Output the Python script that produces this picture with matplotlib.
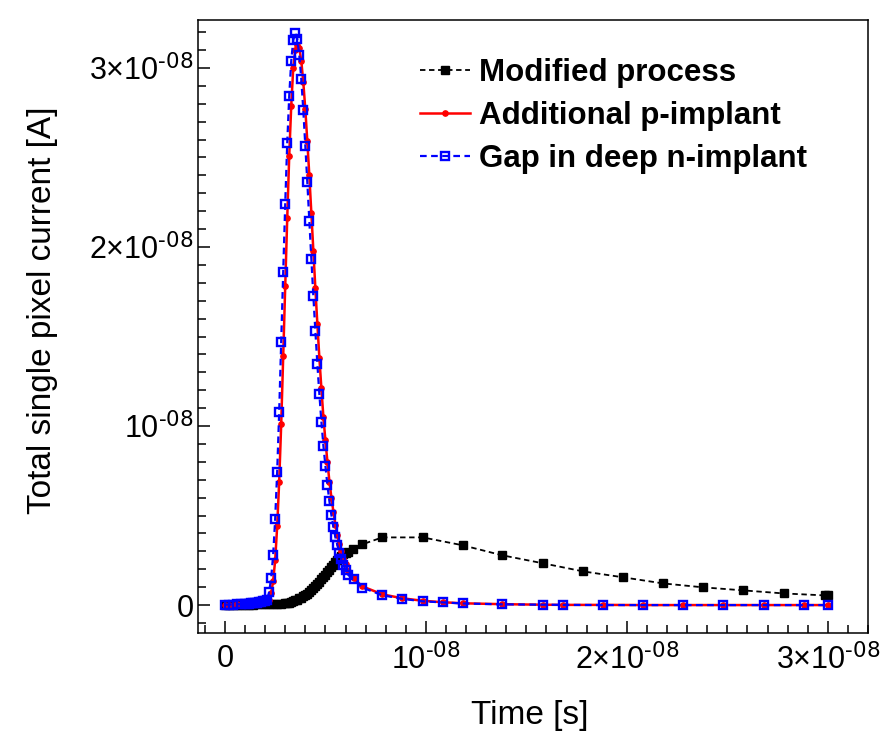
import matplotlib
matplotlib.use("Agg")
import matplotlib.pyplot as plt
import numpy as np
from matplotlib.ticker import MultipleLocator

plt.rcParams['font.family'] = ['Liberation Sans', 'DejaVu Sans']
plt.rcParams['mathtext.default'] = 'regular'

# ---- data: time in ns, current in nA ----
mod_t = [0.0, 0.2, 0.4, 0.6, 0.8, 1.0, 1.2, 1.4, 1.6, 1.8, 2.0, 2.2, 2.4, 2.6, 2.8,
         3.0, 3.1, 3.2, 3.3, 3.4, 3.5, 3.6, 3.7, 3.8, 3.9, 4.0, 4.1, 4.2, 4.3, 4.4,
         4.5, 4.6, 4.7, 4.8, 4.9, 5.0, 5.1, 5.2, 5.3, 5.4, 5.5, 5.6, 5.7, 5.8, 5.9,
         6.0, 6.1, 6.38, 6.83, 7.83, 9.84, 11.83, 13.8, 15.84, 17.83, 19.82, 21.8,
         23.8, 25.8, 27.8, 29.85, 30.0]
mod_i = [0.01, 0.01, 0.01, 0.02, 0.02, 0.02, 0.03, 0.03, 0.04, 0.04, 0.05, 0.05, 0.05, 0.06, 0.07,
         0.09, 0.11, 0.14, 0.18, 0.22, 0.26, 0.31, 0.37, 0.42, 0.48, 0.55, 0.63, 0.72, 0.82, 0.93,
         1.05, 1.17, 1.30, 1.43, 1.56, 1.70, 1.84, 1.98, 2.12, 2.26, 2.40, 2.53, 2.64, 2.74, 2.83,
         2.91, 2.98, 3.11, 3.39, 3.78, 3.78, 3.34, 2.78, 2.33, 1.88, 1.55, 1.21,
         0.99, 0.82, 0.65, 0.54, 0.54]

pim_t = [0.0, 0.2, 0.4, 0.6, 0.8, 1.0, 1.1, 1.2, 1.3, 1.4, 1.5, 1.6, 1.7, 1.8, 1.9, 2.0,
         2.1, 2.2, 2.3, 2.4, 2.5, 2.6, 2.7, 2.8, 2.9, 3.0, 3.1, 3.2, 3.3, 3.4, 3.5, 3.6,
         3.7, 3.8, 3.9, 4.0, 4.1, 4.2, 4.3, 4.4, 4.5, 4.6, 4.7, 4.8, 4.9, 5.0, 5.1, 5.2,
         5.3, 5.4, 5.5, 5.6, 5.7, 5.8, 5.9, 6.0, 6.14, 6.4, 6.83, 7.83, 8.82, 9.84,
         10.83, 11.83, 13.8, 15.84, 16.83, 18.82, 20.81, 22.8, 24.8, 26.8, 28.8, 30.0]
pim_i = [0.02, 0.03, 0.03, 0.04, 0.05, 0.06, 0.06, 0.07, 0.08, 0.09, 0.10, 0.11, 0.12, 0.14, 0.16, 0.18,
         0.20, 0.30, 0.65, 1.35, 2.50, 4.40, 6.90, 10.1, 13.9, 17.8, 21.6, 25.1, 27.9, 30.0, 31.0, 31.3,
         31.1, 30.4, 29.2, 27.7, 25.9, 24.0, 21.9, 19.8, 17.7, 15.7, 13.8, 12.1, 10.5, 9.2, 8.0, 6.9,
         6.0, 5.2, 4.5, 3.9, 3.4, 3.0, 2.6, 2.3, 1.9, 1.5, 1.05, 0.60, 0.38, 0.24,
         0.16, 0.10, 0.05, 0.02, 0.01, 0.01, 0.0, 0.0, 0.0, 0.0, 0.0, 0.0]

gap_t = pim_t
gap_i = [0.02, 0.03, 0.03, 0.04, 0.05, 0.06, 0.07, 0.08, 0.09, 0.10, 0.11, 0.13, 0.15, 0.17, 0.20, 0.24,
         0.30, 0.74, 1.50, 2.80, 4.80, 7.45, 10.8, 14.7, 18.6, 22.4, 25.8, 28.45, 30.4, 31.56, 31.94, 31.6,
         30.73, 29.37, 27.64, 25.66, 23.61, 21.47, 19.33, 17.26, 15.31, 13.45, 11.77, 10.24, 8.90, 7.78, 6.70, 5.79,
         5.01, 4.34, 3.78, 3.34, 2.92, 2.55, 2.23, 1.96, 1.68, 1.44, 0.98, 0.55, 0.35, 0.21,
         0.15, 0.09, 0.04, 0.02, 0.01, 0.0, 0.0, 0.0, 0.0, 0.0, 0.0, 0.0]

labels = ["Modified process", "Additional p-implant", "Gap in deep n-implant"]
xtick_vals = [0, 1e-8, 2e-8, 3e-8]
xtick_labels = ["0", "10$^{\\text{-08}}$", "2\u00d710$^{\\text{-08}}$", "3\u00d710$^{\\text{-08}}$"]
ytick_vals = [0, 1e-8, 2e-8, 3e-8]
ytick_labels = ["0", "10$^{\\text{-08}}$", "2\u00d710$^{\\text{-08}}$", "3\u00d710$^{\\text{-08}}$"]

fig = plt.figure(figsize=(8.88, 7.55), dpi=100)
ax = fig.add_axes([198/888, 122/755, 670/888, 613/755])

ax.plot(np.array(mod_t)*1e-9, np.array(mod_i)*1e-9, color='black', lw=1.3,
        ls=(0, (3, 2)), marker='s', ms=5.5, mfc='black', mec='black', label=labels[0], zorder=2)
ax.plot(np.array(pim_t)*1e-9, np.array(pim_i)*1e-9, color='red', lw=1.8,
        ls='-', marker='o', ms=3.8, mfc='red', mec='red', label=labels[1], zorder=3)
ax.plot(np.array(gap_t)*1e-9, np.array(gap_i)*1e-9, color='blue', lw=1.6,
        ls=(0, (3, 2)), marker='s', ms=6, mfc='none', mec='blue', mew=1.7, label=labels[2], zorder=4)

ax.set_xlim(-1.34e-9, 3.2e-8)
ax.set_ylim(-1.56e-9, 3.268e-8)

ax.set_xticks(xtick_vals)
ax.set_xticklabels(xtick_labels)
ax.set_yticks(ytick_vals)
ax.set_yticklabels(ytick_labels)
ax.xaxis.set_minor_locator(MultipleLocator(1e-9))
ax.yaxis.set_minor_locator(MultipleLocator(1e-9))
ax.tick_params(which='both', direction='in', top=False, right=False, width=1.1, labelsize=22)
ax.tick_params(which='major', length=8.5)
ax.tick_params(which='minor', length=6)
ax.tick_params(axis='x', pad=8)
ax.tick_params(axis='y', pad=3)
for s in ax.spines.values():
    s.set_linewidth(1.1)

ax.set_xlabel("Time [s]", fontsize=24)
ax.set_ylabel("Total single pixel current [A]", fontsize=24)
ax.xaxis.set_label_coords((530-198)/670, -(700-633)/613)
ax.yaxis.set_label_coords(-(198-58)/670, (633-310)/613)

leg = ax.legend(loc='upper left', bbox_to_anchor=(420/888, 1-58/755), bbox_transform=fig.transFigure,
                frameon=False, prop={'weight': 'bold', 'size': 22.5}, handlelength=1.6,
                handletextpad=0.3, labelspacing=0.42, borderpad=0, borderaxespad=0, numpoints=1)

fig.savefig("out.png", dpi=100)
